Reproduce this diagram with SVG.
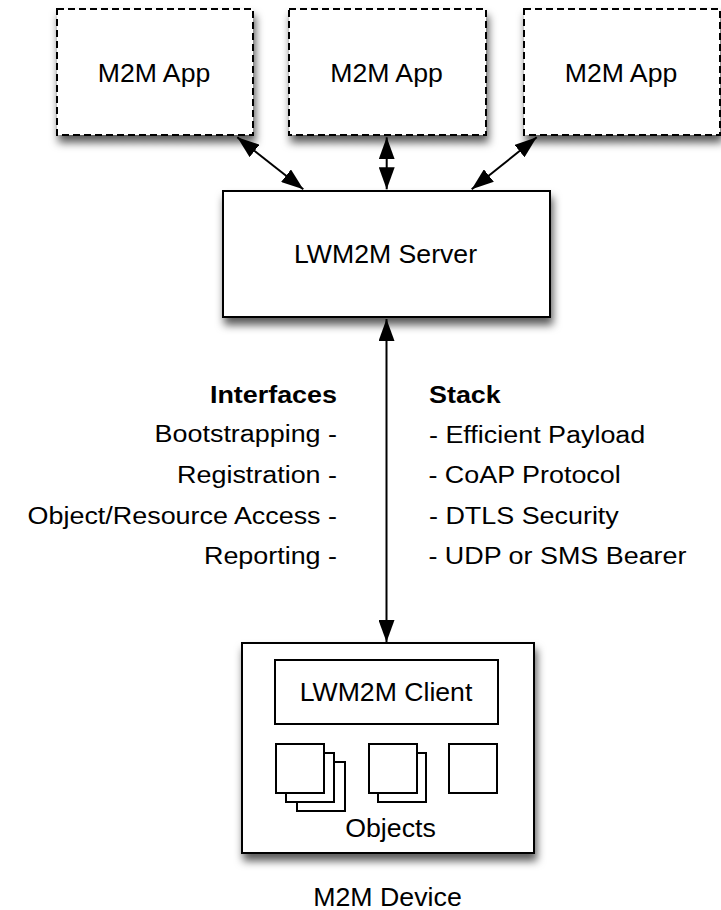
<svg xmlns="http://www.w3.org/2000/svg" width="721" height="910" viewBox="0 0 721 910">
<defs>
<filter id="shadow" x="-10%" y="-10%" width="130%" height="140%">
<feDropShadow dx="2" dy="7" stdDeviation="4" flood-color="#000" flood-opacity="0.65"/>
</filter>
<marker id="ah" markerUnits="userSpaceOnUse" markerWidth="22" markerHeight="16" refX="22" refY="8" orient="auto-start-reverse" viewBox="0 0 22 16">
<path d="M0,0 L22,8 L0,16 Z" fill="#000"/>
</marker>
<style>
.app{fill:#fff;stroke:#000;stroke-width:2;stroke-dasharray:7 4;}
.box{fill:#fff;stroke:#000;stroke-width:2;}
.big{font-family:"Liberation Sans",Arial,Helvetica,sans-serif;font-size:25px;fill:#000;text-anchor:middle;}
.sm{font-family:"Liberation Sans",Arial,Helvetica,sans-serif;font-size:23px;fill:#000;}
.end{text-anchor:end;}
.b{font-weight:bold;}
.conn{stroke:#000;stroke-width:2;fill:none;marker-start:url(#ah);marker-end:url(#ah);}
</style>
</defs>
<rect width="721" height="910" fill="#fff"/>

<g id="app1">
<rect class="app" x="57" y="9" width="196" height="126" filter="url(#shadow)"/>
<text class="big" transform="translate(154,82) scale(1.066,1)">M2M App</text>
</g>
<g id="app2">
<rect class="app" x="289" y="9" width="197" height="126" filter="url(#shadow)"/>
<text class="big" transform="translate(386.5,82) scale(1.066,1)">M2M App</text>
</g>
<g id="app3">
<rect class="app" x="524" y="9" width="196" height="126" filter="url(#shadow)"/>
<text class="big" transform="translate(621,82) scale(1.066,1)">M2M App</text>
</g>

<g id="server">
<rect class="box" x="223" y="191" width="327" height="126" filter="url(#shadow)"/>
<text class="big" transform="translate(385.5,263) scale(1.066,1)">LWM2M Server</text>
</g>

<g id="device">
<rect class="box" x="242" y="643" width="292" height="210" filter="url(#shadow)"/>
<g id="client">
<rect class="box" x="275" y="660" width="223" height="64"/>
<text class="big" transform="translate(386,701) scale(1.066,1)">LWM2M Client</text>
</g>
<g id="objects">
<rect class="box" x="297" y="762" width="48" height="49"/>
<rect class="box" x="286" y="753" width="48" height="49"/>
<rect class="box" x="276" y="744" width="48" height="49"/>
<rect class="box" x="378" y="753" width="48" height="49"/>
<rect class="box" x="369" y="744" width="48" height="49"/>
<rect class="box" x="449" y="744" width="48" height="49"/>
<text class="big" transform="translate(390.5,837) scale(1.07,1)">Objects</text>
</g>
<text class="big" transform="translate(387.5,906) scale(1.07,1)">M2M Device</text>
</g>

<g id="interfaces" transform="translate(337,0) scale(1.17,1)">
<text class="sm b end" x="0" y="403">Interfaces</text>
<text class="sm end" x="0" y="442">Bootstrapping -</text>
<text class="sm end" x="0" y="483">Registration -</text>
<text class="sm end" x="0" y="524">Object/Resource Access -</text>
<text class="sm end" x="0" y="564">Reporting -</text>
</g>

<g id="stack" transform="translate(429,0) scale(1.17,1)">
<text class="sm b" x="0" y="403">Stack</text>
<text class="sm" x="0" y="443">- Efficient Payload</text>
<text class="sm" x="-0.5" y="483">- CoAP Protocol</text>
<text class="sm" x="0" y="524">- DTLS Security</text>
<text class="sm" x="-0.5" y="564">- UDP or SMS Bearer</text>
</g>

<g id="connectors">
<line class="conn" x1="237.3" y1="137.3" x2="303.3" y2="189.3"/>
<line class="conn" x1="386.7" y1="137.3" x2="386.7" y2="189.3"/>
<line class="conn" x1="536.7" y1="137.3" x2="471.7" y2="189.3"/>
<line class="conn" x1="386.5" y1="319" x2="386.5" y2="642"/>
</g>
</svg>
